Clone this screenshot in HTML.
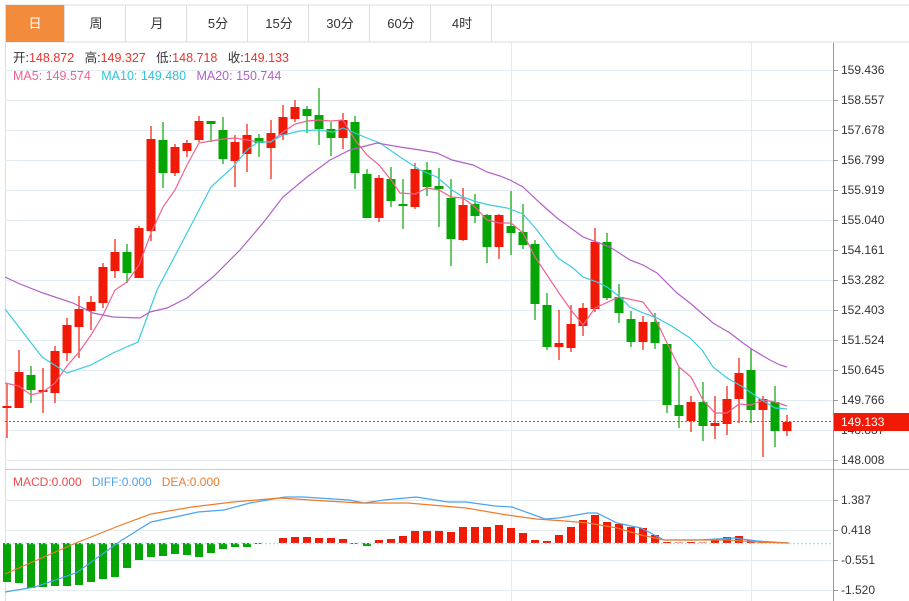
<!DOCTYPE html>
<html><head><meta charset="utf-8"><style>
html,body{margin:0;padding:0;background:#fff;width:909px;height:601px;overflow:hidden;font-family:"Liberation Sans","Noto Sans CJK SC",sans-serif;}
svg{position:absolute;left:0;top:0}
</style></head><body>
<svg id="s" width="909" height="601" xmlns="http://www.w3.org/2000/svg" font-family="Liberation Sans, Noto Sans CJK SC, sans-serif"></svg>
<script>
var s='';
function L(x1,y1,x2,y2,c,w,d){s+='<line x1="'+x1+'" y1="'+y1+'" x2="'+x2+'" y2="'+y2+'" stroke="'+c+'" stroke-width="'+(w||1)+'"'+(d?' stroke-dasharray="'+d+'"':'')+'/>';}
function R(x,y,w,h,f,st){s+='<rect x="'+x+'" y="'+y+'" width="'+w+'" height="'+h+'" fill="'+f+'"'+(st?' stroke="'+st+'"':'')+'/>';}
function T(x,y,t,c,sz,a){s+='<text x="'+x+'" y="'+y+'" fill="'+c+'" font-size="'+(sz||12)+'"'+(a?' text-anchor="'+a+'"':'')+'>'+t+'</text>';}
var tabs=['日','周','月','5分','15分','30分','60分','4时'];
L(5,5,909,5,'#ddd');L(5,42,909,42,'#ddd');
for(var i=0;i<8;i++){var x=5+i*61;
 if(i==0)R(5,5,59,37,'#f28c3c');
 L(x+61.5-2,5,x+61.5-2,42,'#ddd');
 T(x+30,28,tabs[i],i==0?'#fff':'#333',13,'middle');}
L(5.5,5,5.5,601,'#ddd');
for(var k=0;k<14;k++){var y=70+k*30;L(5,y+.5,833,y+.5,'#e3ecf3');}
L(511.5,43,511.5,601,'#e3ecf3');L(751.5,43,751.5,601,'#e3ecf3');
[500,530,560,590].forEach(function(y){L(5,y+.5,833,y+.5,'#e3ecf3');});
L(5,469.5,909,469.5,'#ccc');
L(833.5,43,833.5,601,'#999');
var labs=['159.436','158.557','157.678','156.799','155.919','155.040','154.161','153.282','152.403','151.524','150.645','149.766','148.887','148.008'];
for(k=0;k<14;k++){var y=70+k*30;L(833,y+.5,838,y+.5,'#999');T(841,y+4,labs[k],'#333',12);}
[[500,'1.387'],[530,'0.418'],[560,'-0.551'],[590,'-1.520']].forEach(function(a){L(833,a[0]+.5,838,a[0]+.5,'#999');T(841,a[0]+4,a[1],'#333',12);});
var C=[[406,408,383,438,1],[372,408,350,408,1],[375,390,366,403,0],[390,392,368,413,1],[351,393,346,403,1],[325,353,318,361,1],[309,327,296,358,1],[302,311,296,330,1],[267,303,263,308,1],[252,271,239,278,1],[252,273,244,283,0],[228,278,226,278,1],[139,231,126,241,1],[140,173,122,188,0],[147,173,144,176,1],[143,151,140,157,1],[121,140,116,142,1],[121,124,121,142,0],[130,159,117,164,0],[142,161,135,187,1],[135,154,124,172,1],[138,143,134,157,0],[133,148,120,179,1],[117,135,105,140,1],[107,119,100,122,1],[109,116,106,133,0],[115,129,88,145,0],[129,138,122,156,0],[120,138,113,149,1],[122,173,116,189,0],[174,218,169,218,0],[178,218,175,222,1],[179,201,167,207,0],[204,206,179,229,0],[169,207,163,209,1],[170,187,162,196,0],[186,189,168,227,0],[198,239,179,266,0],[205,240,188,241,1],[204,216,194,223,0],[215,247,214,263,0],[215,247,214,259,1],[226,233,191,255,0],[232,245,204,249,0],[244,304,240,320,0],[305,347,293,350,0],[343,347,310,360,1],[324,348,305,352,1],[308,326,303,336,1],[242,309,228,312,1],[242,298,233,300,0],[297,313,284,323,0],[319,342,311,347,0],[322,342,316,350,1],[322,343,313,349,0],[344,405,344,413,0],[405,416,367,428,0],[402,421,396,432,1],[402,426,382,441,0],[423,426,396,439,1],[399,424,386,435,1],[373,399,358,423,1],[370,410,348,423,0],[399,410,396,457,1],[402,431,386,447,0],[422,431,415,436,1]];
var RED='#f01a06',GRN='#06a506';
C.forEach(function(c,i){var x=7+12*i,col=c[4]?RED:GRN;L(x,c[2],x,c[3],col,1.2);R(x-4.5,c[0],9,Math.max(2,c[1]-c[0]),col);});
function P(pts,col){s+='<polyline fill="none" stroke="'+col+'" stroke-width="1.2" points="'+pts+'"/>';}
P('5,383 19,386 31,395 43,392 55,383 67,366 79,352 91,335 103,315 115,290 127,282 139,265 151,233 163,207 175,190 187,165 199,143 211,141 223,139 235,138 247,140 259,142 271,142 283,132 295,124 307,121 319,120 331,121 343,120 355,140 367,155 379,165 391,180 400,193 415,194 427,188 439,190 451,197 463,198 475,207 487,220 499,223 511,223 523,233 535,257 559,293 571,310 583,325 595,308 619,297 643,302 655,318 667,343 679,367 691,377 703,400 715,413 727,413 739,404 751,405 763,400 775,402 787,406','#f0628e');
P('5,309 42,357 67,373 91,365 113,353 138,342 157,290 187,233 211,187 233,167 247,150 258,142 270,142 283,135 300,131 317,130 333,132 343,128 367,138 380,143 400,157 420,170 437,177 452,190 463,197 477,202 490,205 507,208 523,214 537,230 558,258 573,268 583,277 597,282 607,287 620,297 630,307 643,313 657,318 670,325 690,338 702,350 713,367 727,378 743,387 757,397 775,408 787,409','#3ccbe0');
P('5,277 20,284 43,293 73,303 93,313 113,317 140,318 150,312 167,308 187,298 213,277 240,250 263,223 283,197 307,177 330,160 350,150 377,143 400,147 420,150 437,153 452,160 473,165 487,172 500,176 510,180 523,187 540,203 557,218 583,237 610,247 630,260 643,265 657,273 677,293 690,303 713,323 730,333 743,343 753,350 770,360 780,365 787,367','#b35fc7');
L(5,421.5,833,421.5,'#e33',1,'2,2');
R(834,413,75,18,'#f01a06');T(841,426,'149.133','#fff',12);
s+='<text x="13" y="62" font-size="12.5" fill="#333" xml:space="preserve">开:<tspan fill="#f0302a">148.872</tspan>   高:<tspan fill="#f0302a">149.327</tspan>   低:<tspan fill="#f0302a">148.718</tspan>   收:<tspan fill="#f0302a">149.133</tspan></text>';
s+='<text x="13" y="80" font-size="12.5" fill="#f0628e" xml:space="preserve">MA5: 149.574   <tspan fill="#2ec3d6">MA10: 149.480</tspan>   <tspan fill="#b35fc7">MA20: 150.744</tspan></text>';
s+='<text x="13" y="486" font-size="12" fill="#f04a4a" xml:space="preserve">MACD:0.000   <tspan fill="#4aa3ef">DIFF:0.000</tspan>   <tspan fill="#f07a2a">DEA:0.000</tspan></text>';
var Z=543;
var G=[582,583,588,587,586,586,585,582,579,577,568,560,557,556,554,555,557,553,549,547,547,544];
G.forEach(function(y,i){R(7+12*i-4,Z,8,y-Z,GRN);});
var Rb=[538,537,537,538,538,539,-544,-546,540,539,536,531,531,531,532,527,527,527,525,528,533,540,541,535,527,520,515,522,524,527,528,535,542,542.5,542,542.5,540,537,536,540,541,542.5];
Rb.forEach(function(y,j){var i=j+23,x=7+12*i-4;if(y<0){y=-y;R(x,Z,8,y-Z,GRN);}else R(x,y,8,Z-y,RED);});
L(5,Z+.5,833,Z+.5,'#aee0f0',1.5,'2,2');
P('5,592 35,587 76,573 122,540 151,522 175,517 198,512 224,510 250,503 285,497 303,497 349,500 364,503 384,500 416,497 448,502 466,502 495,506 512,507 545,519 559,518 588,513 597,513 617,523 641,528 664,540 699,540 734,538 757,541 789,543','#4aa3ef');
P('5,574 76,543 116,527 151,514 192,507 233,502 280,498 326,501 361,503 408,503 466,508 507,515 536,519 565,521 588,523 617,528 641,535 664,540 728,540 757,542 789,543','#f07a2a');
document.getElementById('s').innerHTML=s;
</script>
</body></html>
